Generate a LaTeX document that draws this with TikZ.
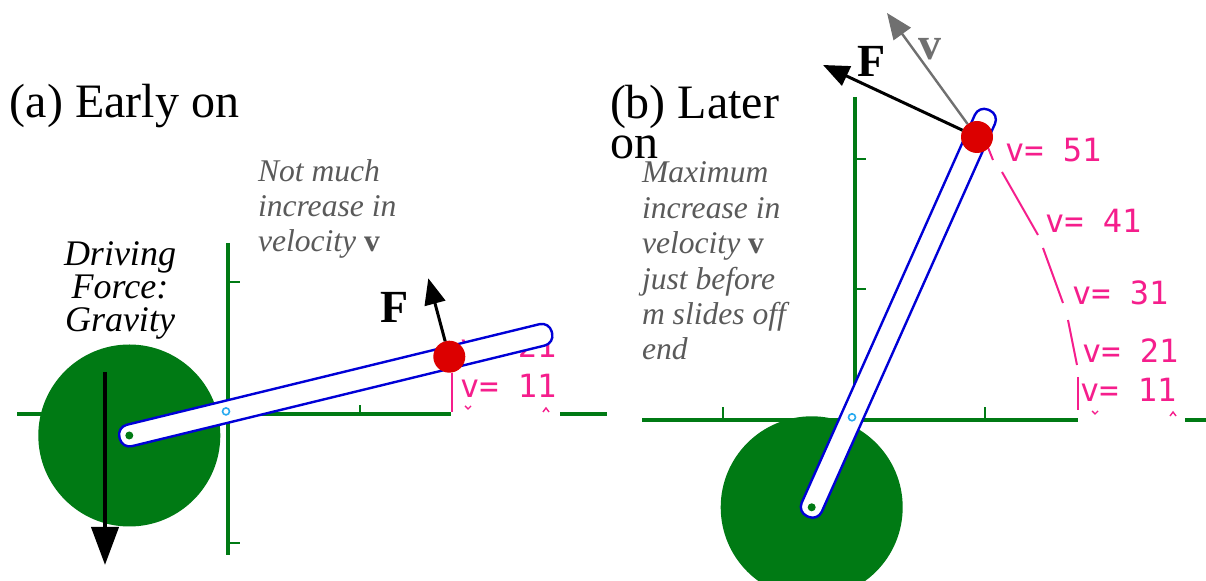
\documentclass[tikz,border=0pt]{standalone}
\usepackage{fontspec}
\setmainfont{Liberation Serif}
\newfontfamily\pixfont{DejaVu Sans Mono}
\usepackage{tikz}
\usetikzlibrary{arrows.meta}
\definecolor{axisgreen}{RGB}{0,122,20}
\definecolor{rodblue}{RGB}{0,0,215}
\definecolor{massred}{RGB}{220,0,0}
\definecolor{tracepink}{RGB}{245,30,140}
\definecolor{hubcyan}{RGB}{40,170,240}
\definecolor{notegray}{RGB}{90,90,90}
\definecolor{velgray}{RGB}{112,112,112}

\begin{document}
\begin{tikzpicture}[
  x=0.5pt, y=-0.5pt,
  every node/.style={inner sep=0pt, outer sep=0pt},
  title/.style={font=\fontsize{24}{20}\selectfont, align=left, anchor=base west},
  note/.style={font=\fontsize{15.8}{17.7}\selectfont\itshape, text=notegray,
               align=left, anchor=base west},
  cause/.style={font=\fontsize{18}{16.5}\selectfont\itshape, align=center, anchor=base},
  vlab/.style={font=\fontsize{16}{16}\pixfont, text=tracepink, anchor=base west},
  flab/.style={font=\fontsize{23}{23}\selectfont\bfseries, anchor=base west},
  axis/.style={axisgreen, line width=2.3pt},
  tick/.style={axisgreen, line width=1pt},
  disk/.style={fill=axisgreen},
  rod/.style={draw=rodblue, fill=white, line width=1.2pt, rounded corners=5pt},
  mass/.style={circle, fill=massred, minimum size=16pt},
  pivot/.style={circle, fill=axisgreen, minimum size=4pt},
  hub/.style={circle, draw=hubcyan, fill=white, line width=0.8pt, minimum size=3.5pt},
  trace/.style={tracepink, line width=1pt},
  force/.style={-{Triangle[length=13pt,width=10.5pt]}, line width=1.5pt},
  heavy/.style={-{Triangle[length=19pt,width=13.5pt]}, line width=2pt},
]
\path[use as bounding box] (0,0) rectangle (1206,581);

%% (a) axes
\draw[axis] (17,414) -- (451,414);
\draw[axis] (560,414) -- (607,414);
\draw[axis] (228,243) -- (228,555);
\draw[tick] (228,282) -- (240,282);
\draw[tick] (228,543) -- (240,543);
\draw[tick] (360,414) -- (360,405);

%% (a) wheel
\fill[disk] (129.3,435.5) circle[radius=45.5pt];

%% (a) trace
\draw[trace] (451.7,373) -- (451.7,412);
\draw[trace, line width=0.7pt] (465,406) -- (468,409) -- (471,406);
\draw[trace, line width=0.7pt] (543,412) -- (546,408) -- (549,412);
\node[vlab] (va21) at (460,358) {v= 21};
\node[vlab] (va11) at (460,398) {v= 11};

%% (a) rod
\begin{scope}[shift={(129.3,435.5)}, rotate=13.7]
  \draw[rod] (-10,-11) rectangle (435,11);
\end{scope}
\node[hub] (hubA) at (226,411.4) {};
\node[pivot] (pivotA) at (129.3,435.5) {};
\node[mass] (massA) at (449.3,356.7) {};

%% (a) forces
\coordinate (gravTop) at (105,372);
\coordinate (gravTip) at (105,565);
\draw[heavy] (gravTop) -- (gravTip);
\coordinate (forceTipA) at (428.3,278.3);
\draw[force] (massA) -- (forceTipA);

%% (a) labels (multi-line: base = last line)
\node[title] (titleA) at (10,118) {(a) Early on};
\node[note] (noteA) at (258,252) {Not much\\increase in\\velocity \textbf{\upshape v}};
\node[cause] (cause) at (120,332) {Driving\\Force:\\Gravity};
\node[flab] (fA) at (380,323) {F};

%% (b) axes
\draw[axis] (642,420) -- (1078,420);
\draw[axis] (1185,420) -- (1206,420);
\draw[axis] (855,97) -- (855,420);
\draw[tick] (855,159) -- (866,159);
\draw[tick] (855,289) -- (866,289);
\foreach \tx in {723,985}
  \draw[tick] (\tx,420) -- (\tx,407);

%% (b) wheel
\fill[disk] (811.7,507.3) circle[radius=45.5pt];

%% (b) trace
\foreach \xa/\ya/\xb/\yb in {987/145/993/160, 1002/172/1038/235,
    1043/248/1063/303, 1068/320/1077/365, 1078/377/1078/410}
  \draw[trace] (\xa,\ya) -- (\xb,\yb);
\draw[trace, line width=0.7pt] (1092,411) -- (1095,414) -- (1098,411);
\draw[trace, line width=0.7pt] (1170,416) -- (1173,412) -- (1176,416);
\foreach \v/\x/\y in {51/1005/162, 41/1045/233, 31/1072/305, 21/1082/363, 11/1080/402}
  \node[vlab] (vb\v) at (\x,\y) {v= \v};

%% (b) rod
\begin{scope}[shift={(811.7,507.3)}, rotate=65.94]
  \draw[rod] (-10,-11) rectangle (435,11);
\end{scope}
\node[hub] (hubB) at (852,417.3) {};
\node[pivot] (pivotB) at (811.7,507.3) {};
\node[mass] (massB) at (977,137) {};

%% (b) force and velocity
\coordinate (forceTipB) at (823,65);
\coordinate (velTip) at (887,13);
\draw[force, velgray, line width=1.2pt] (massB) -- (velTip);
\draw[force] (massB) -- (forceTipB);

%% (b) labels
\node[title] (titleB) at (610,159) {(b) Later\\on};
\node[note] (noteB) at (642,360)
  {Maximum\\increase in\\velocity \textbf{\upshape v}\\just before\\m slides off\\end};
\node[flab] (fB) at (857,77) {F};
\node[flab, text=velgray] (vB) at (918,60) {v};

\end{tikzpicture}
\end{document}
